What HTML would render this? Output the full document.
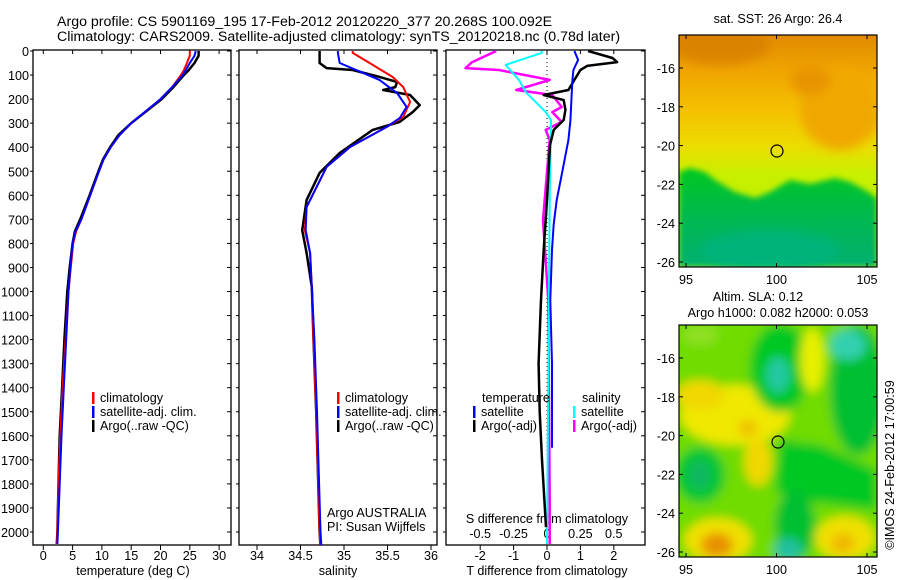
<!DOCTYPE html>
<html><head><meta charset="utf-8"><style>
html,body{margin:0;padding:0;background:#fff;}
svg{display:block;font-family:"Liberation Sans",sans-serif;}
text{font-size:12.6px;fill:#000;}
</style></head><body>
<svg id="chart" width="900" height="580" viewBox="0 0 900 580" xmlns="http://www.w3.org/2000/svg">
<defs>
<filter id="blur6" x="-50%" y="-50%" width="200%" height="200%"><feGaussianBlur stdDeviation="5"/></filter>
<filter id="blur3" x="-50%" y="-50%" width="200%" height="200%"><feGaussianBlur stdDeviation="3"/></filter>
<clipPath id="clipM1"><rect x="679" y="35" width="198" height="232"/></clipPath>
<clipPath id="clipM2"><rect x="679" y="325" width="198" height="232"/></clipPath>
<clipPath id="clipP1"><rect x="33" y="50" width="198" height="495"/></clipPath>
<clipPath id="clipP2"><rect x="239" y="50" width="198" height="495"/></clipPath>
<clipPath id="clipP3"><rect x="446" y="50" width="199" height="495"/></clipPath>
<linearGradient id="sstGrad" x1="0" y1="0" x2="0" y2="1">
<stop offset="0" stop-color="#e08a00"/><stop offset="0.15" stop-color="#f0a400"/><stop offset="0.32" stop-color="#f5c000"/><stop offset="0.48" stop-color="#ecdc00"/><stop offset="0.6" stop-color="#c8f000"/><stop offset="1" stop-color="#b0f000"/>
</linearGradient>
<linearGradient id="greenGrad" x1="0" y1="0" x2="0" y2="1">
<stop offset="0" stop-color="#00c820"/><stop offset="0.5" stop-color="#00b850"/><stop offset="1" stop-color="#00b070"/>
</linearGradient>
</defs>
<text x="57" y="26" style="font-size:14.2px">Argo profile: CS 5901169_195 17-Feb-2012 20120220_377 20.268S 100.092E</text>
<text x="57" y="41" style="font-size:14.2px">Climatology: CARS2009. Satellite-adjusted climatology: synTS_20120218.nc (0.78d later)</text>

<g id="p1"></g>
<g id="p2"></g>
<g id="p3"></g>

<g>
<text x="778" y="23" text-anchor="middle">sat. SST: 26 Argo: 26.4</text>
<g clip-path="url(#clipM1)">
<rect x="679" y="35" width="198" height="232" fill="url(#sstGrad)"/>
<ellipse cx="720" cy="45" rx="50" ry="20" fill="#d88000" filter="url(#blur6)" opacity="0.8"/>
<ellipse cx="840" cy="110" rx="40" ry="40" fill="#f0a800" filter="url(#blur6)"/>
<ellipse cx="810" cy="80" rx="20" ry="15" fill="#e89400" filter="url(#blur6)"/>
<polygon points="679,172 690,168 705,172 715,180 735,192 755,198 770,192 790,180 810,184 835,178 850,182 865,190 877,198 877,267 679,267" fill="url(#greenGrad)" filter="url(#blur3)"/>
<ellipse cx="770" cy="250" rx="70" ry="20" fill="#00b480" filter="url(#blur6)" opacity="0.8"/>
</g>
<rect x="679" y="35" width="198" height="232" fill="none" stroke="#000" stroke-width="1.2"/>
<circle cx="777" cy="151" r="6" fill="none" stroke="#000" stroke-width="1.2"/>
</g>
<g id="m1axes"></g>

<g>
<text x="758" y="301" text-anchor="middle">Altim. SLA: 0.12</text>
<text x="778" y="317" text-anchor="middle">Argo h1000: 0.082 h2000: 0.053</text>
<g clip-path="url(#clipM2)" filter="url(#blur6)">
<rect x="660" y="310" width="240" height="260" fill="#70dc00"/>
<ellipse cx="735" cy="415" rx="55" ry="30" fill="#f0e800"/>
<ellipse cx="700" cy="395" rx="25" ry="15" fill="#f0d800"/>
<ellipse cx="748" cy="428" rx="10" ry="8" fill="#f0c000"/>
<ellipse cx="758" cy="462" rx="14" ry="24" fill="#f0d800"/>
<ellipse cx="700" cy="475" rx="25" ry="28" fill="#00c830"/>
<ellipse cx="700" cy="475" rx="12" ry="15" fill="#10b860"/>
<ellipse cx="780" cy="368" rx="30" ry="44" fill="#00c820"/>
<ellipse cx="778" cy="375" rx="12" ry="18" fill="#20c8a0"/>
<ellipse cx="858" cy="390" rx="28" ry="65" fill="#00c030"/>
<ellipse cx="848" cy="345" rx="18" ry="15" fill="#30d0b0"/>
<polygon points="780,440 820,445 877,470 877,510 840,505 790,500 775,490" fill="#00c820"/>
<ellipse cx="795" cy="525" rx="20" ry="35" fill="#00c030"/>
<ellipse cx="788" cy="550" rx="14" ry="12" fill="#20c0a0"/>
<ellipse cx="718" cy="540" rx="34" ry="22" fill="#f0e000"/>
<ellipse cx="717" cy="545" rx="16" ry="12" fill="#e89000"/>
<ellipse cx="845" cy="538" rx="30" ry="22" fill="#f0e000"/>
<ellipse cx="843" cy="543" rx="12" ry="10" fill="#f0b800"/>
<ellipse cx="812" cy="360" rx="12" ry="32" fill="#e8f000"/>
<ellipse cx="700" cy="335" rx="18" ry="10" fill="#90e020"/>
</g>
<rect x="679" y="325" width="198" height="232" fill="none" stroke="#000" stroke-width="1.2"/>
<circle cx="778" cy="442" r="6" fill="none" stroke="#000" stroke-width="1.2"/>
</g>
<g id="m2axes"></g>
<text transform="translate(894,465) rotate(-90)" text-anchor="middle">©IMOS 24-Feb-2012 17:00:59</text>
</svg>
<script>
// ---- data ----
const tDepths = [0,20,50,80,100,150,200,250,300,350,400,450,500,600,700,750,800,900,1000,1200,1400,1600,1800,2000,2050];
const tClim = [25,25,24.5,24,23.5,22,20,17.5,15,13,11.5,10.3,9.5,8,6.5,5.6,5.1,4.7,4.3,3.8,3.3,2.9,2.6,2.4,2.3];
const tSat = [26,25.8,25,24.3,23.8,22,20,17.5,15,13,11.5,10.3,9.5,8,6.5,5.5,5.0,4.6,4.3,3.9,3.5,3.1,2.8,2.5,2.4];
const tArgo = [26.5,26.5,25.8,24.8,24,22.2,20.2,17.6,15,12.8,11.4,10.2,9.4,7.9,6.3,5.4,5.0,4.5,4.1,3.6,3.2,2.8,2.6,2.4,2.3];
const sClimDepths = [0,8,58,108,150,212,274,316,399,482,649,745,840,981,1200,1500,2000,2060];
const sClim = [35.10,35.10,35.33,35.56,35.68,35.76,35.68,35.49,35.07,34.80,34.57,34.55,34.61,34.63,34.65,34.68,34.72,34.73];
const sSatDepths = [0,8,50,91,121,175,233,279,316,399,482,649,745,840,981,1200,1500,2000,2060];
const sSat = [34.93,34.93,34.95,35.22,35.41,35.61,35.72,35.64,35.49,35.07,34.80,34.57,34.56,34.61,34.63,34.66,34.69,34.73,34.74];
const sArgoDepths = [0,8,50,71,79,108,129,150,162,183,225,254,295,328,424,507,620,745,840,981,1200,1500,2000,2060];
const sArgo = [34.72,34.72,34.72,34.80,35.10,35.41,35.61,35.59,35.45,35.76,35.87,35.79,35.64,35.33,34.95,34.72,34.57,34.52,34.57,34.63,34.65,34.68,34.72,34.73];
const dTSatDepths = [0,37,79,120,204,290,370,450,536,620,720,827,1035,1300,1500,1650];
const dTSat = [0.82,0.93,0.79,0.76,0.73,0.70,0.64,0.53,0.41,0.29,0.2,0.15,0.1,0.15,0.15,0.15];
const dTArgoDepths = [0,29,46,62,79,120,162,183,204,245,287,328,391,620,827,1035,1300,1500,1700,1980];
const dTArgo = [1.23,1.96,2.1,1.2,1.0,0.82,0.64,-0.1,0.5,0.55,0.5,0.2,0.09,0,-0.1,-0.18,-0.25,-0.22,-0.15,-0.03];
const dSSatDepths = [0,8,58,120,170,254,287,620,2050];
const dSSat = [-0.04,-0.04,-0.31,-0.21,-0.16,-0.01,0.03,0.02,0];
const dSArgoDepths = [0,46,71,79,120,162,183,233,254,295,328,370,703,1035,1867,2050];
const dSArgo = [-0.38,-0.56,-0.61,-0.36,0.02,-0.23,0.04,0.11,0.04,0.11,-0.01,0.02,-0.03,0.01,0.02,0.02];
const depthTicks = [0,100,200,300,400,500,600,700,800,900,1000,1100,1200,1300,1400,1500,1600,1700,1800,1900,2000];
const tempTicks = [0,5,10,15,20,25,30];
const salTicks = [34,34.5,35,35.5,36];
const dTTicks = [-2,-1,0,1,2];
const dSTicks = [-0.5,-0.25,0,0.25,0.5];
const dSTickLabels = ['-0.5','-0.25','0','0.25','0.5'];
const lonTicks = [95,100,105];
const latTicks = [-16,-18,-20,-22,-24,-26];

// ---- scales ----
const NS='http://www.w3.org/2000/svg';
const yD = d => 51 + d*0.2405;
const xT = t => 43.3 + t*5.86;
const xS = s => 257 + (s-34)*87;
const xDT = v => 547 + v*33.4;
const xDS = v => 547 + v*133.6;
const xLon = l => 686 + (l-95)*18.1;
const yLat1 = l => 68 + (-16-l)*19.4;
const yLat2 = l => 358 + (-16-l)*19.4;

function mk(tag, attrs, parent){const e=document.createElementNS(NS,tag);for(const k in attrs)e.setAttribute(k,attrs[k]);parent.appendChild(e);return e;}
function txt(parent,x,y,s,anchor){const e=mk('text',{x:x,y:y,'text-anchor':anchor||'start'},parent);e.textContent=s;return e;}
function line(parent,x1,y1,x2,y2,sw){return mk('line',{x1:x1,y1:y1,x2:x2,y2:y2,stroke:'#000','stroke-width':sw||1},parent);}
function profile(parent,depths,vals,xf,color,w,name){
  const pts=depths.map((d,i)=>xf(vals[i]).toFixed(1)+','+yD(d).toFixed(1)).join(' ');
  const p=mk('polyline',{points:pts,fill:'none',stroke:color,'stroke-width':w,'stroke-linejoin':'round'},parent);
  
  
  return p;
}
function frame(parent,x0,x1){
  mk('rect',{x:x0,y:50,width:x1-x0,height:495,fill:'none',stroke:'#000','stroke-width':1.3},parent);
  depthTicks.forEach(d=>{line(parent,x1-4,yD(d),x1,yD(d));line(parent,x0-3,yD(d),x0,yD(d));});
}
function legendEntry(parent,x,y,color,label){
  const g=mk('g',{},parent);
  
  
  mk('rect',{x:x,y:y-10,width:2.5,height:12,fill:color},g);
  txt(g,x+8,y,label);
}

// Panel 1
const p1=document.getElementById('p1');
frame(p1,33,231);
depthTicks.forEach(d=>{const t=txt(p1,29,yD(d)+5,String(d),'end');});
tempTicks.forEach(t=>{line(p1,xT(t),545,xT(t),550);line(p1,xT(t),50,xT(t),54);const e=txt(p1,xT(t),560,String(t),'middle');});
const xt1=txt(p1,133,575,'temperature (deg C)','middle');
const g1=mk('g',{'clip-path':'url(#clipP1)'},p1);
profile(g1,tDepths,tArgo,xT,'#000',2.5,'temp-argo-line');
profile(g1,tDepths,tClim,xT,'#f00',2,'temp-climatology-line');
profile(g1,tDepths,tSat,xT,'#00f',2,'temp-satellite-line');
legendEntry(p1,92,402,'#f00','climatology');
legendEntry(p1,92,416,'#00f','satellite-adj. clim.');
legendEntry(p1,92,430,'#000','Argo(..raw -QC)');

// Panel 2
const p2=document.getElementById('p2');
frame(p2,239,437);
salTicks.forEach(s=>{line(p2,xS(s),545,xS(s),550);line(p2,xS(s),50,xS(s),54);const e=txt(p2,xS(s),560,String(s),'middle');});
const xt2=txt(p2,338,575,'salinity','middle');
const g2=mk('g',{'clip-path':'url(#clipP2)'},p2);
profile(g2,sArgoDepths,sArgo,xS,'#000',2.5,'sal-argo-line');
profile(g2,sClimDepths,sClim,xS,'#f00',2,'sal-climatology-line');
profile(g2,sSatDepths,sSat,xS,'#00f',2,'sal-satellite-line');
legendEntry(p2,337,402,'#f00','climatology');
legendEntry(p2,337,416,'#00f','satellite-adj. clim.');
legendEntry(p2,337,430,'#000','Argo(..raw -QC)');
const a1=txt(p2,327,517,'Argo AUSTRALIA');
const a2=txt(p2,327,531,'PI: Susan Wijffels');

// Panel 3
const p3=document.getElementById('p3');
frame(p3,446,645);
mk('line',{x1:547,y1:50,x2:547,y2:545,stroke:'#000','stroke-width':1,'stroke-dasharray':'1,3'},p3);
dTTicks.forEach(v=>{line(p3,xDT(v),545,xDT(v),550);line(p3,xDT(v),50,xDT(v),54);const e=txt(p3,xDT(v),560,String(v),'middle');});
dSTicks.forEach((v,i)=>{const e=txt(p3,xDS(v),538,dSTickLabels[i],'middle');});
const sd=txt(p3,547,523,'S difference from climatology','middle');
const td=txt(p3,547,575,'T difference from climatology','middle');
const g3=mk('g',{'clip-path':'url(#clipP3)'},p3);
profile(g3,dSArgoDepths,dSArgo,xDS,'#f0f',2.5,'dS-argo-line');
profile(g3,dSSatDepths,dSSat,xDS,'#0ff',2,'dS-satellite-line');
profile(g3,dTArgoDepths,dTArgo,xDT,'#000',2.5,'dT-argo-line');
profile(g3,dTSatDepths,dTSat,xDT,'#00f',2,'dT-satellite-line');
const lt=txt(p3,482,402,'temperature');
const ls=txt(p3,582,402,'salinity');
legendEntry(p3,473,416,'#00f','satellite');
legendEntry(p3,473,430,'#000','Argo(-adj)');
legendEntry(p3,573,416,'#0ff','satellite');
legendEntry(p3,573,430,'#f0f','Argo(-adj)');

// Map axes
function mapAxes(id,yTop,yBot,yLat){
  const g=document.getElementById(id);
  lonTicks.forEach(l=>{line(g,xLon(l),yBot,xLon(l),yBot-4);line(g,xLon(l),yTop,xLon(l),yTop+4);const e=txt(g,xLon(l),yBot+17,String(l),'middle');});
  latTicks.forEach(l=>{line(g,877,yLat(l),873,yLat(l));line(g,679,yLat(l),683,yLat(l));const e=txt(g,675,yLat(l)+5,String(l),'end');});
}
mapAxes('m1axes',35,267,yLat1);
mapAxes('m2axes',325,557,yLat2);
</script>
</body></html>
